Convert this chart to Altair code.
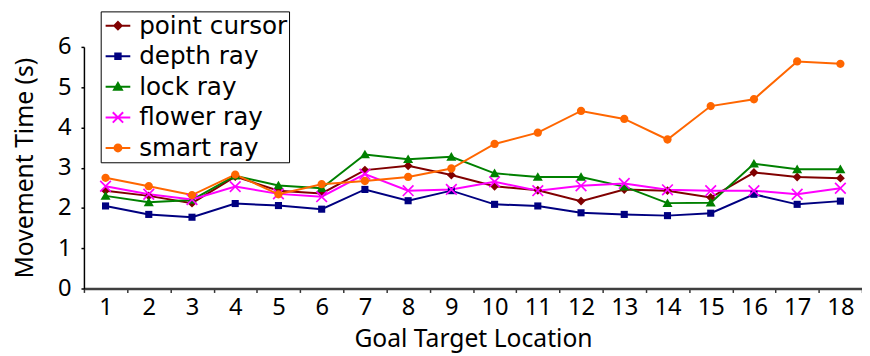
import altair as alt
import pandas as pd

locations = list(range(1, 19))
series_names = ["point cursor", "depth ray", "lock ray", "flower ray", "smart ray"]
series_colors = ["#800000", "#000080", "#008000", "#FF00FF", "#FF6600"]

point_cursor = [2.43, 2.30, 2.12, 2.78, 2.43, 2.36, 2.94, 3.05, 2.82, 2.54, 2.44, 2.17, 2.46, 2.43, 2.26, 2.88, 2.77, 2.74]
depth_ray = [2.05, 1.84, 1.77, 2.11, 2.06, 1.97, 2.46, 2.18, 2.43, 2.09, 2.05, 1.88, 1.84, 1.81, 1.87, 2.34, 2.09, 2.17]
lock_ray = [2.30, 2.14, 2.20, 2.80, 2.56, 2.49, 3.33, 3.21, 3.27, 2.86, 2.77, 2.77, 2.53, 2.12, 2.13, 3.10, 2.96, 2.96]
flower_ray = [2.54, 2.34, 2.21, 2.53, 2.35, 2.28, 2.84, 2.43, 2.46, 2.65, 2.43, 2.55, 2.61, 2.45, 2.43, 2.43, 2.34, 2.49]
smart_ray = [2.75, 2.54, 2.32, 2.83, 2.34, 2.59, 2.67, 2.77, 2.98, 3.59, 3.87, 4.41, 4.21, 3.70, 4.53, 4.70, 5.64, 5.58]

all_values = [point_cursor, depth_ray, lock_ray, flower_ray, smart_ray]

marker_paths = [
    "M0,-0.75L0.75,0L0,0.75L-0.75,0Z",
    "M-0.6,-0.6L0.6,-0.6L0.6,0.6L-0.6,0.6Z",
    "M0,-0.8L0.85,0.65L-0.85,0.65Z",
    "M0,-0.2L0.8,-1L1,-0.8L0.2,0L1,0.8L0.8,1L0,0.2L-0.8,1L-1,0.8L-0.2,0L-1,-0.8L-0.8,-1Z",
    "M0.7,0A0.7,0.7,0,1,1,-0.7,0A0.7,0.7,0,1,1,0.7,0Z",
]
legend_paths = [
    "M-1,0L1,0M0,-0.3L0.3,0L0,0.3L-0.3,0Z",
    "M-1,0L1,0M-0.22,-0.22L0.22,-0.22L0.22,0.22L-0.22,0.22Z",
    "M-1,0L1,0M0,-0.32L0.32,0.24L-0.32,0.24Z",
    "M-1,0L1,0M-0.42,-0.42L0.42,0.42M-0.42,0.42L0.42,-0.42",
    "M-1,0L1,0M0.28,0A0.28,0.28,0,1,1,-0.28,0A0.28,0.28,0,1,1,0.28,0Z",
]

rows = []
for name, vals in zip(series_names, all_values):
    for loc, v in zip(locations, vals):
        rows.append({"loc": loc, "series": name, "value": v})
df = pd.DataFrame(rows)

FONT = "Noto Sans"

x_enc = alt.X(
    "loc:O",
    sort=locations,
    scale=alt.Scale(type="band", paddingInner=0, paddingOuter=0),
    axis=alt.Axis(
        title="Goal Target Location",
        labelAngle=0,
        tickBand="extent",
        labelFontSize=24,
        labelColor="black",
        labelPadding=3,
        tickSize=4,
        tickColor="#333333",
        tickWidth=1.5,
        domainColor="#404040",
        domainWidth=2.5,
        titleFontSize=25,
        titleFontWeight="normal",
        titleColor="black",
        titlePadding=8,
        grid=False,
    ),
)
y_enc = alt.Y(
    "value:Q",
    scale=alt.Scale(domain=[0, 6]),
    axis=alt.Axis(
        title="Movement Time (s)",
        values=[0, 1, 2, 3, 4, 5, 6],
        labelFontSize=24,
        labelColor="black",
        labelPadding=10,
        tickSize=3,
        tickColor="black",
        tickWidth=1.5,
        domainColor="black",
        domainWidth=1.5,
        titleFontSize=25,
        titleFontWeight="normal",
        titleColor="black",
        titlePadding=20,
        grid=False,
    ),
)

base = alt.Chart(df)

leg = alt.Legend(
    title=None,
    orient="none",
    legendX=17,
    legendY=-36,
    labelFontSize=25,
    labelColor="black",
    labelFont="DejaVu Sans",
    labelOffset=8,
    symbolOffset=3,
    rowPadding=4,
    padding=1,
    symbolSize=625,
    symbolStrokeWidth=2,
    strokeColor="black",
    fillColor="white",
)

legend_layer = (
    base.mark_point(filled=True, opacity=1, size=0, strokeWidth=0)
    .encode(
        x=x_enc,
        y=y_enc,
        stroke=alt.Stroke(
            "series:N",
            scale=alt.Scale(domain=series_names, range=series_colors),
            legend=leg,
        ),
        fill=alt.Fill(
            "series:N",
            scale=alt.Scale(domain=series_names, range=series_colors),
            legend=leg,
        ),
        shape=alt.Shape(
            "series:N",
            scale=alt.Scale(domain=series_names, range=legend_paths),
            legend=leg,
        ),
    )
)

lines = base.mark_line(strokeWidth=2).encode(
    x=x_enc,
    y=y_enc,
    stroke=alt.Stroke(
        "series:N",
        scale=alt.Scale(domain=series_names, range=series_colors),
        legend=None,
    ),
)

point_layers = []
for name, col, path in zip(series_names, series_colors, marker_paths):
    point_layers.append(
        base.transform_filter(alt.datum.series == name)
        .mark_point(filled=True, shape=path, size=144, color=col, opacity=1, strokeWidth=0)
        .encode(x=x_enc, y=y_enc)
    )

chart = (
    alt.layer(legend_layer, lines, *point_layers)
    .properties(
        width=789,
        height=245,
        autosize=alt.AutoSizeParams(type="none"),
        padding={"left": 77, "top": 37, "right": 0, "bottom": 66},
    )
    .configure(font=FONT)
    .configure_view(stroke=None)
)

chart.save("out.html", embed_options={"renderer": "svg", "actions": False})
